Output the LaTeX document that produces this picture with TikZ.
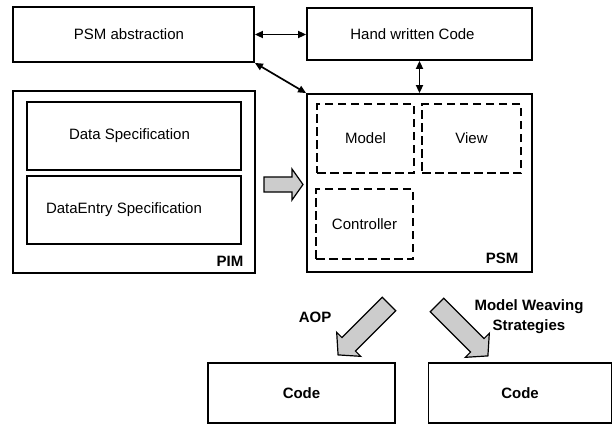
\documentclass[tikz,border=0pt]{standalone}
\usepackage{fontspec}
\setmainfont{Liberation Sans}
\usetikzlibrary{arrows.meta}

\tikzset{
  box/.style={draw, line width=1.8pt, rectangle, inner sep=0pt, font=\fontsize{15}{18}\selectfont},
  part/.style={draw, line width=2.8pt, dash pattern=on 8.5pt off 4.5pt, rectangle, inner sep=0pt,
    font=\fontsize{15}{18}\selectfont},
  tag/.style={font=\fontsize{15}{18}\selectfont\bfseries, inner sep=0pt},
  link/.style={line width=1.7pt, {Triangle[length=8pt,width=7pt]}-{Triangle[length=8pt,width=7pt]}},
  blockarrow/.style={draw, line width=1.2pt, fill=black!20, line join=miter}
}

% block arrow: tail centre, direction, length, shaft half width, head half width, head length
\newcommand{\fatarrow}[6]{%
  \begin{scope}[shift={#1}, rotate=#2]
    \draw[blockarrow] (0,-#4) -- ({#3-#6},-#4) -- ({#3-#6},-#5) -- (#3,0)
      -- ({#3-#6},#5) -- ({#3-#6},#4) -- (0,#4) -- cycle;
  \end{scope}}

\begin{document}
\begin{tikzpicture}[x=1pt,y=-1pt]
  \useasboundingbox (0,0) rectangle (613,426);

  % top row
  \node[box, minimum width=241pt, minimum height=55pt,
        label={[xshift=-4.5pt, font=\fontsize{15}{18}\selectfont]center:PSM abstraction}]
        (psmabs) at (133.5,34.5) {};
  \node[box, minimum width=225pt, minimum height=52pt,
        label={[xshift=-7pt, font=\fontsize{15}{18}\selectfont]center:Hand written Code}]
        (hwc) at (419.5,34) {};

  % platform independent model
  \node[box, minimum width=242pt, minimum height=182pt] (pim) at (134,182) {};
  \node[box, minimum width=214pt, minimum height=68pt,
        label={[xshift=-4.5pt, font=\fontsize{15}{18}\selectfont]center:Data Specification}]
        (dataspec) at (134,136) {};
  \node[box, minimum width=214pt, minimum height=68pt,
        label={[xshift=-10pt, font=\fontsize{15}{18}\selectfont]center:DataEntry Specification}]
        (dataentry) at (134,210) {};
  \node[tag] (pimlabel) at (230,261) {PIM};

  % platform specific model
  \node[box, minimum width=225pt, minimum height=178pt] (psm) at (419.5,183) {};
  \node[part, minimum width=97pt, minimum height=69pt] (model) at (365.5,138.5) {Model};
  \node[part, minimum width=99pt, minimum height=69pt] (view) at (471.5,138.5) {View};
  \node[part, minimum width=97pt, minimum height=70pt] (controller) at (364.5,224) {Controller};
  \node[tag] (psmlabel) at (502,258) {PSM};

  % generated code
  \node[box, minimum width=187pt, minimum height=60pt, font=\fontsize{15}{18}\selectfont\bfseries]
        (code1) at (301.5,393) {Code};
  \node[box, minimum width=183pt, minimum height=60pt, font=\fontsize{15}{18}\selectfont\bfseries]
        (code2) at (520,393) {Code};

  % connectors
  \draw[link] (psmabs.east) -- (hwc.west |- psmabs.east);
  \draw[link] (psmabs.south east) -- (psm.north west);
  \draw[link] (hwc.south) -- (psm.north);

  % transformations
  \fatarrow{(264,184.5)}{0}{39}{7.5}{15.5}{11}
  \fatarrow{(389,304)}{-135}{72}{9.5}{17}{15}
  \fatarrow{(437,305)}{-45}{72}{9.5}{17}{15}

  \node[tag] (aop) at (315,317) {AOP};
  \node[tag, align=center, font=\fontsize{15}{20}\selectfont\bfseries] (weave) at (529,317)
        {Model Weaving\\Strategies};
\end{tikzpicture}
\end{document}
